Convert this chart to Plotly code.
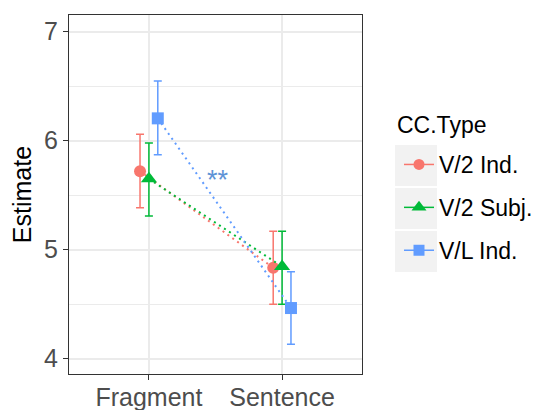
import plotly.graph_objects as go

# ---- data ----
conditions = ["Fragment", "Sentence"]
cc_types = ["V/2 Ind.", "V/2 Subj.", "V/L Ind."]
legend_title = "CC.Type"
estimate_v2_ind = [5.72, 4.835]
lower_v2_ind = [5.385, 4.50]
upper_v2_ind = [6.06, 5.17]
estimate_v2_subj = [5.65, 4.845]
lower_v2_subj = [5.31, 4.50]
upper_v2_subj = [5.98, 5.17]
estimate_vl_ind = [6.205, 4.465]
lower_vl_ind = [5.87, 4.132]
upper_vl_ind = [6.548, 4.798]
y_ticks = [4, 5, 6, 7]
sig_label = "**"

colors = ["#F8766D", "#00BA38", "#619CFF"]
symbols = ["circle", "triangle-up", "square"]
sizes = [12, 14, 12]
dodge = [-0.0667, 0.0, 0.0667]

series = [
    (estimate_v2_ind, lower_v2_ind, upper_v2_ind),
    (estimate_v2_subj, lower_v2_subj, upper_v2_subj),
    (estimate_vl_ind, lower_vl_ind, upper_vl_ind),
]

FONT = "Liberation Sans, Arial, Helvetica, sans-serif"
OFF = 8  # page body margin
fig = go.Figure()

for i, (name, (est, lo, hi)) in enumerate(zip(cc_types, series)):
    xs = [j + 1 + dodge[i] for j in range(len(conditions))]
    fig.add_trace(go.Scatter(
        x=xs, y=est, mode="lines+markers", name=name, showlegend=False,
        line=dict(color=colors[i], width=2, dash="2px,4px"),
        marker=dict(color=colors[i], symbol=symbols[i], size=sizes[i]),
        error_y=dict(type="data", symmetric=False,
                     array=[h - e for h, e in zip(hi, est)],
                     arrayminus=[e - l for e, l in zip(est, lo)],
                     color=colors[i], thickness=1.5, width=4),
    ))

for i, name in enumerate(cc_types):
    fig.add_trace(go.Scatter(
        x=[None], y=[None], mode="lines+markers", name=name,
        legendgroup=name,
        line=dict(color=colors[i], width=1.5),
        marker=dict(color=colors[i], symbol=symbols[i], size=sizes[i] - 1),
    ))

fig.add_annotation(x=1.52, y=5.64, text=sig_label, showarrow=False,
                   font=dict(size=27, color="#5E93D6", family=FONT),
                   xanchor="center", yanchor="middle")

# panel in screen pixels
SL, SR, ST, SB = 69, 362, 15, 374
L, R, T, B = SL - OFF, SR - OFF, ST - OFF, SB - OFF

def px2paper(px, py):
    return (px - SL) / (SR - SL), (SB - py) / (SB - ST)

# legend title
tx, ty = px2paper(395, 125)
fig.add_annotation(x=tx, y=ty, xref="paper", yref="paper", text=legend_title,
                   showarrow=False, xanchor="left", yanchor="middle",
                   font=dict(size=23, color="black", family=FONT))

# grey legend key boxes
for (y0, y1) in [(145, 186), (188, 229), (231, 272)]:
    x0p, y0p = px2paper(395, y1)
    x1p, y1p = px2paper(437, y0)
    fig.add_shape(type="rect", xref="paper", yref="paper",
                  x0=x0p, x1=x1p, y0=y0p, y1=y1p,
                  fillcolor="#F2F2F2", line_width=0, layer="below")

fig.update_layout(
    width=546, height=410,
    margin=dict(l=L, r=546 - R, t=T, b=410 - B, autoexpand=False),
    paper_bgcolor="white", plot_bgcolor="white",
    font=dict(family=FONT, size=23, color="black"),
    legend=dict(
        xref="container", yref="container",
        x=(399 - OFF) / 546, y=1 - (143 - OFF) / 410,
        xanchor="left", yanchor="top",
        bgcolor="rgba(0,0,0,0)", tracegroupgap=10,
        font=dict(size=23, color="black"),
    ),
)
fig.update_xaxes(
    range=[0.4, 2.6], tickvals=[1, 2], ticktext=conditions, automargin=False,
    showgrid=True, gridcolor="#EBEBEB", gridwidth=1.5,
    zeroline=False, showline=True, linecolor="#333333", linewidth=1.3,
    mirror=True, ticks="outside", ticklen=5, tickcolor="#333333",
    tickwidth=1.3, tickfont=dict(size=25, color="#4D4D4D"),
    ticklabelstandoff=-4,
)
fig.update_yaxes(
    range=[3.86, 7.153], tickvals=y_ticks, automargin=False,
    showgrid=True, gridcolor="#EBEBEB", gridwidth=1.5,
    minor=dict(tickvals=[4.5, 5.5, 6.5], showgrid=True,
               gridcolor="#EBEBEB", gridwidth=1.2, ticks=""),
    zeroline=False, showline=True, linecolor="#333333", linewidth=1.3,
    mirror=True, ticks="outside", ticklen=5, tickcolor="#333333",
    tickwidth=1.3, tickfont=dict(size=25, color="#4D4D4D"),
    title=dict(text="Estimate", font=dict(size=25, color="black"), standoff=6),
)

fig.write_html("out.html")
